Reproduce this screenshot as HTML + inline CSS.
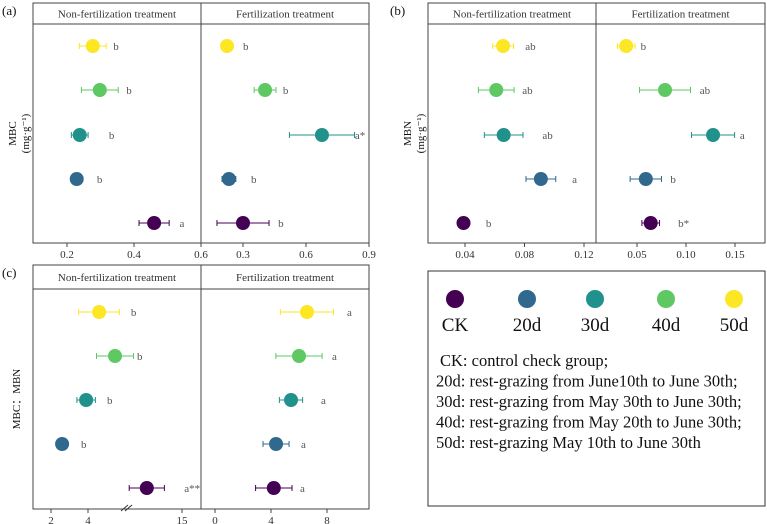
<!DOCTYPE html>
<html><head><meta charset="utf-8"><style>
body{margin:0;background:#fff;width:767px;height:524px;overflow:hidden}
svg{display:block}
text{font-family:"Liberation Serif","Times New Roman",serif}
</style></head><body>
<svg id="chart" width="767" height="524" viewBox="0 0 767 524" xmlns="http://www.w3.org/2000/svg" font-family="Liberation Serif, serif">
<g id="legend">
<rect x="428" y="271" width="337" height="235" fill="none" stroke="#333" stroke-width="1"/>
</g>
</svg>
<script>
const groups = ["CK","20d","30d","40d","50d"];
const colors = ["#440154","#31688e","#21918c","#5ec962","#fde725"];
// Panel a (MBC)
const aNonVals = [0.46,0.229,0.238,0.298,0.277];
const aNonErr = [0.045,0,0.025,0.055,0.04];
const aNonSig = ["a","b","b","b","b"];
const aNonSigX = [0.536,0.289,0.325,0.377,0.338];
const aFerVals = [0.30,0.233,0.676,0.405,0.224];
const aFerErr = [0.124,0.033,0.155,0.052,0.012];
const aFerSig = ["b","b","a*","b","b"];
const aFerSigX = [0.467,0.338,0.833,0.49,0.30];
// Panel b (MBN)
const bNonVals = [0.039,0.091,0.066,0.061,0.0656];
const bNonErr = [0,0.010,0.013,0.012,0.007];
const bNonSig = ["b","a","ab","ab","ab"];
const bNonSigX = [0.054,0.112,0.092,0.0785,0.0805];
const bFerVals = [0.064,0.059,0.1276,0.0786,0.039];
const bFerErr = [0.009,0.016,0.022,0.026,0.009];
const bFerSig = ["b*","b","a","ab","b"];
const bFerSigX = [0.092,0.084,0.155,0.114,0.0537];
// Panel c (MBC:MBN)
const cNonVals = [11.8,2.6,3.9,5.46,4.6];
const cNonErr = [1.6,0,0.5,1.0,1.1];
const cNonSig = ["a**","b","b","b","b"];
const cNonSigX = [15.2,3.62,5.03,6.65,6.32];
const cFerVals = [4.2,4.36,5.43,6.0,6.57];
const cFerErr = [1.3,0.93,0.83,1.65,1.9];
const cFerSig = ["a","a","a","a","a"];
const cFerSigX = [6.07,6.14,7.57,8.36,9.43];
const aNonTicks = [0.2,0.4,0.6], aFerTicks=[0.3,0.6,0.9];
const bNonTicks = [0.04,0.08,0.12], bFerTicks=[0.05,0.10,0.15];
const cNonTicks = [2,4,15], cFerTicks=[0,4,8];
const legendNotes = ["CK: control check group;","20d: rest-grazing from June10th to June 30th;","30d: rest-grazing from May 30th to June 30th;","40d: rest-grazing from May 20th to June 30th;","50d: rest-grazing May 10th to June 30th"];

const NS="http://www.w3.org/2000/svg";
const svg=document.getElementById('chart');
const FF='"Liberation Serif", serif';
function mk(tag,attrs,parent,text){const e=document.createElementNS(NS,tag);for(const k in attrs)e.setAttribute(k,attrs[k]);if(tag==='text')e.style.fontFamily=FF;if(text!==undefined)e.textContent=text;(parent||svg).appendChild(e);return e;}
function lin(d0,d1,r0,r1){return v=>r0+(v-d0)/(d1-d0)*(r1-r0);}
function cBreak(v){return v<=8?lin(2,4,51,88)(v):lin(10,15,127,182)(v);}

function panel(opt){
  const g=mk('g',{});
  
  
  const {x0,x1,xm,top,hb,bot}=opt;
  mk('rect',{x:x0,y:top,width:x1-x0,height:bot-top,fill:'none',stroke:'#444','stroke-width':1},g);
  mk('line',{x1:x0,x2:x1,y1:hb,y2:hb,stroke:'#444'},g);
  mk('line',{x1:xm,x2:xm,y1:top,y2:bot,stroke:'#444'},g);
  const t1=mk('text',{x:(x0+xm)/2,y:(top+hb)/2+4,'text-anchor':'middle','font-size':11,fill:'#333'},g,'Non-fertilization treatment');
  
  
  const t2=mk('text',{x:(xm+x1)/2,y:(top+hb)/2+4,'text-anchor':'middle','font-size':11,fill:'#333'},g,'Fertilization treatment');
  
  
  const pl=mk('text',{x:opt.tagx,y:top+12,'font-size':13,fill:'#111'},g,opt.tag);
  
  
  const yl=mk('text',{transform:`translate(${opt.ylx},${(hb+bot)/2}) rotate(-90)`,'text-anchor':'middle','font-size':11,fill:'#111'},g);
  
  
  opt.ylab.forEach((s,i)=>{mk('tspan',{x:0,dy:i?13:0},yl,s);});
  [[opt.sx1,opt.t1,opt.v1,opt.e1,opt.s1,opt.sx1v],[opt.sx2,opt.t2,opt.v2,opt.e2,opt.s2,opt.sx2v]].forEach((S)=>{
    const [sc,ticks,vals,errs,sigs,sigx]=S;
    ticks.forEach(t=>{const x=sc(t);
      const tk=mk('line',{x1:x,x2:x,y1:bot,y2:bot+4,stroke:'#444'},g);
      
      
      const tl=mk('text',{x:x,y:bot+15,'text-anchor':'middle','font-size':11,fill:'#333'},g,opt.fmt(t));
      
      });
    vals.forEach((v,i)=>{
      const y=opt.rows[i];const cx=sc(v);const c=colors[i];
      if(errs[i]>0){const a=sc(v-errs[i]),b=sc(v+errs[i]);
        const eb=mk('path',{d:`M${a},${y}H${b}M${a},${y-3}V${y+3}M${b},${y-3}V${y+3}`,stroke:c,'stroke-width':1,fill:'none'},g);
        
        }
      const p=mk('circle',{cx:cx,cy:y,r:7,fill:c},g);
      
      
      const sl=mk('text',{x:sc(sigx[i]),y:y+4,'font-size':11,fill:'#555'},g,sigs[i]);
      
      
    });
  });
  if(opt.brk){const b=mk('path',{d:'M121,511 L128,505 M125,511 L132,505',stroke:'#333','stroke-width':1},g);
    
    }
}
const rowsTop=[223,179,135,90,46], rowsC=[488,444,400,356,312];
panel({name:'panel-a-mbc',tag:'(a)',tagx:2,x0:33,x1:369,xm:201,top:3,hb:24,bot:243,ylx:16,ylab:['MBC','(mg·g⁻¹)'],rows:rowsTop,
  sx1:lin(0.2,0.6,67,201),t1:aNonTicks,v1:aNonVals,e1:aNonErr,s1:aNonSig,sx1v:aNonSigX,
  sx2:lin(0.3,0.9,243,369),t2:aFerTicks,v2:aFerVals,e2:aFerErr,s2:aFerSig,sx2v:aFerSigX,fmt:t=>String(t)});
panel({name:'panel-b-mbn',tag:'(b)',tagx:390,x0:428,x1:765,xm:596,top:3,hb:24,bot:243,ylx:411,ylab:['MBN','(mg·g⁻¹)'],rows:rowsTop,
  sx1:lin(0.04,0.12,465,584),t1:bNonTicks,v1:bNonVals,e1:bNonErr,s1:bNonSig,sx1v:bNonSigX,
  sx2:lin(0.05,0.15,637,735),t2:bFerTicks,v2:bFerVals,e2:bFerErr,s2:bFerSig,sx2v:bFerSigX,fmt:t=>t.toFixed(2)});
panel({name:'panel-c-ratio',tag:'(c)',tagx:2,x0:33,x1:369,xm:201,top:265,hb:289,bot:509,ylx:20,ylab:['MBC：MBN'],rows:rowsC,brk:true,
  sx1:cBreak,t1:cNonTicks,v1:cNonVals,e1:cNonErr,s1:cNonSig,sx1v:cNonSigX,
  sx2:lin(0,8,215,327),t2:cFerTicks,v2:cFerVals,e2:cFerErr,s2:cFerSig,sx2v:cFerSigX,fmt:t=>String(t)});
const lg=document.getElementById('legend');
const lx=[455,527,595,666,734];
groups.forEach((gname,i)=>{
  const c=mk('circle',{cx:lx[i],cy:299,r:9,fill:colors[i]},lg);
  
  
  const t=mk('text',{x:lx[i],y:331,'text-anchor':'middle','font-size':19,fill:'#111'},lg,gname);
  
  
});
legendNotes.forEach((s,i)=>{
  const t=mk('text',{x:i?436:440,y:366+i*20.5,'font-size':16.5,fill:'#111'},lg,s);
  
  
});
</script>
</body></html>
